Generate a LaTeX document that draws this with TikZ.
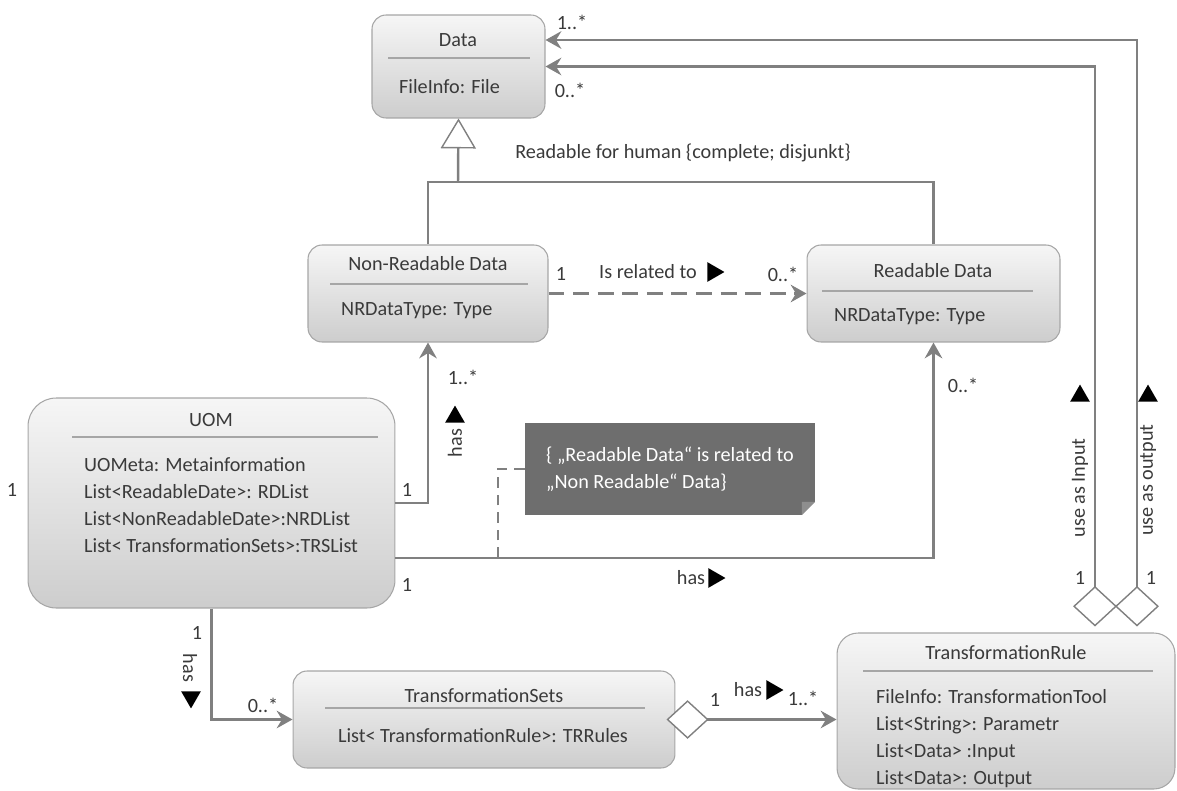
\documentclass[tikz,border=0pt]{standalone}
\usepackage{fontspec}
\setmainfont{Carlito}
\usepackage{xcolor}
\usetikzlibrary{positioning,calc,arrows.meta,shapes.geometric}
\definecolor{LineGray}{HTML}{808080}
\definecolor{TextGray}{HTML}{3A3A3A}
\definecolor{BoxTop}{HTML}{F6F6F6}
\definecolor{BoxBottom}{HTML}{CDCDCD}
\definecolor{BoxEdge}{HTML}{A6A6A6}
\definecolor{NoteGray}{HTML}{6E6E6E}
\definecolor{FoldGray}{HTML}{8E8E8E}

\begin{document}
\begin{tikzpicture}[x=0.02cm, y=-0.02cm,
    font=\fontsize{11.5}{15.4}\selectfont, text=TextGray,
    classbox/.style={draw=BoxEdge, line width=0.6pt, rounded corners=8pt,
      top color=BoxTop, bottom color=BoxBottom, inner sep=0pt},
    sepline/.style={BoxEdge, line width=0.7pt},
    link/.style={LineGray, line width=1.4pt},
    tip/.style={-{Stealth[length=9pt, width=10pt, inset=3pt]}},
    hollowdiamond/.style={{Diamond[open, length=23pt, width=25pt, line width=0.8pt, fill=white]}-{Stealth[length=9pt, width=10pt, inset=3pt]}},
    dirmark/.style={regular polygon, regular polygon sides=3, fill=black,
      inner sep=0pt, minimum size=13pt},
    notebox/.style={fill=NoteGray, text=white, align=left, inner sep=0pt,
      minimum width=5.8cm, minimum height=1.84cm,
      path picture={
        \fill[white] (path picture bounding box.south east) -- ++(-7.5pt,0)
          -- ++(7.5pt,7.5pt) -- cycle;
        \fill[FoldGray] ([xshift=-7.5pt]path picture bounding box.south east)
          -- ([yshift=7.5pt]path picture bounding box.south east)
          -- ([xshift=-7.5pt,yshift=7.5pt]path picture bounding box.south east) -- cycle;
      }}]
    \useasboundingbox (0,0) rectangle (1177,791);

    % classes
    \node[classbox, minimum width=3.46cm, minimum height=2.06cm] (data) at (458.5,66.5) {};
    \node[classbox, minimum width=4.8cm, minimum height=1.94cm] (nr) at (428,293.5) {};
    \node[classbox, minimum width=5.06cm, minimum height=1.94cm] (rd) at (933.5,293.5) {};
    \node[classbox, rounded corners=16pt, minimum width=7.34cm, minimum height=4.2cm] (uom) at (211.5,503) {};
    \node[classbox, minimum width=7.64cm, minimum height=1.94cm] (ts) at (484,719.5) {};
    \node[classbox, rounded corners=12pt, minimum width=6.76cm, minimum height=3.12cm] (tr) at (1006,711) {};

    \node (dataTitle) at (458,40) {Data};
    \draw[sepline] (388,58) -- (530,58);
    \node[anchor=west] (dataAttr) at (393,87) {FileInfo: File};

    \node (nrTitle) at (428,264) {Non-Readable Data};
    \draw[sepline] (330,284) -- (528,284);
    \node[anchor=west] (nrAttr) at (335,311) {NRDataType: Type};

    \node (rdTitle) at (933,271) {Readable Data};
    \draw[sepline] (822,291) -- (1033,291);
    \node[anchor=west] (rdAttr) at (828,317) {NRDataType: Type};

    \node (uomTitle) at (211,420) {UOM};
    \draw[sepline] (72,437) -- (378,437);
    \node[anchor=west, align=left] (uomAttr) at (78,505)
      {UOMeta: Metainformation\\List<ReadableDate>: RDList\\
       List<NonReadableDate>:NRDList\\List< TransformationSets>:TRSList};

    \node (tsTitle) at (484,696) {TransformationSets};
    \draw[sepline] (325,708) -- (645,708);
    \node (tsAttr) at (483,736) {List< TransformationRule>: TRRules};

    \node (trTitle) at (1006,653) {TransformationRule};
    \draw[sepline] (863,671) -- (1153,671);
    \node[anchor=west, align=left] (trAttr) at (870,739)
      {FileInfo: TransformationTool\\List<String>: Parametr\\
       List<Data> :Input\\List<Data>: Output};

    % generalization
    \coordinate (gen) at (458,182);
    \draw[link] (nr.north) -- (nr.north |- gen) -- (rd.north |- gen) -- (rd.north);
    \draw[link, -{Triangle[open, length=17pt, width=20pt, line width=0.8pt, fill=white]}] (gen) -- (data.south);
    \node (genLabel) at (683,153) {Readable for human \{complete; disjunkt\}};

    % associations
    \draw[link, dashed, dash pattern=on 9pt off 5pt, tip] (nr.east) -- (rd.west);
    \draw[link, tip] (uom.east) -| (nr.south);
    \draw[link, tip] ([yshift=-1.1cm]uom.east) -| (rd.south);
    \draw[link, tip] (uom.south) |- (ts.west);
    \draw[link, {Diamond[open, length=24pt, width=22pt, line width=0.8pt, fill=white]}-{Stealth[length=9pt, width=10pt, inset=3pt]}]
      ([xshift=-0.18cm]ts.east) -- (ts.east -| tr.west);
    \draw[link, hollowdiamond] ([xshift=1.78cm, yshift=0.12cm]tr.north) |- (data.east);
    \draw[link, hollowdiamond] ([xshift=2.62cm, yshift=0.12cm]tr.north) |- ([yshift=0.53cm]data.east);

    % note
    \node[notebox] (note) at (670,469) {\{ „Readable Data“ is related to\\ „Non Readable“ Data\}};
    \coordinate (noteFoot) at (498,558);
    \draw[LineGray, line width=1.2pt, dash pattern=on 6pt off 4pt] (noteFoot) |- (note.west);

    % multiplicities and role names
    \foreach \name/\x/\y/\txt in {mOut/572/22/1..*, mIn/570/90/0..*,
        mNr/561/274/1, mRd/783/274/0..*, mUomL/12/490/1, mUomA/407/490/1,
        mNrB/463/377/1..*, mUomB/407/585/1, mRdB/963/385/0..*,
        mTsA/197/633/1, mTsB/263/705/0..*, mTrA/715/700/1, mTrB/803/698/1..*,
        mInB/1080/578/1, mOutB/1151/578/1} {
      \node (\name) at (\x,\y) {\txt};
    }
    \node (relLabel) at (648,272) {Is related to};
    \node (hasRd) at (691,578) {has};
    \node (hasTr) at (748,690) {has};
    \node[rotate=90] (hasNr) at (455,443) {has};
    \node[rotate=-90] (hasTs) at (190,668) {has};
    \node[rotate=90] (useIn) at (1080,488) {use as Input};
    \node[rotate=90] (useOut) at (1148,480) {use as output};

    \node[dirmark, shape border rotate=-90] (dirRel) at (713,272) {};
    \node[dirmark, shape border rotate=-90] (dirRd) at (714,578) {};
    \node[dirmark, shape border rotate=-90] (dirTr) at (772,690) {};
    \node[dirmark] (dirNr) at (455,417) {};
    \node[dirmark, shape border rotate=180] (dirTs) at (191,697) {};
    \node[dirmark] (dirIn) at (1080,396) {};
    \node[dirmark] (dirOut) at (1148,396) {};
\end{tikzpicture}
\end{document}
